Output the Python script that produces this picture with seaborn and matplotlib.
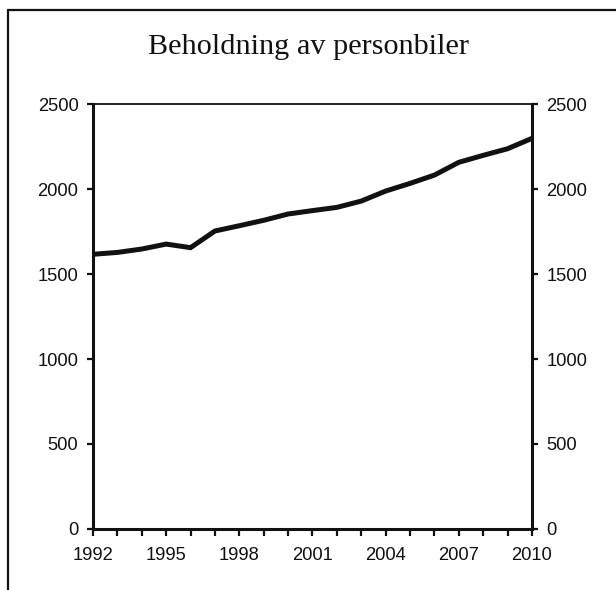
import matplotlib
matplotlib.use("Agg")
import matplotlib.pyplot as plt
from matplotlib.lines import Line2D
import seaborn as sns
import pandas as pd

years = list(range(1992, 2011))
cars = [1616, 1627, 1647, 1676, 1655, 1753, 1784, 1816, 1853, 1873,
        1892, 1929, 1988, 2033, 2082, 2157, 2198, 2237, 2298]
title = "Beholdning av personbiler"
y_ticks = [0, 500, 1000, 1500, 2000, 2500]
x_labels = [1992, 1995, 1998, 2001, 2004, 2007, 2010]

sns.set_theme(style="ticks")
plt.rcParams["font.family"] = ["Liberation Sans", "DejaVu Sans"]

df = pd.DataFrame({"year": years, "cars": cars})

fig = plt.figure(figsize=(6.16, 5.9), dpi=100)
ax = fig.add_axes([0.151, 0.1034, 0.7126, 0.7203])

sns.lineplot(data=df, x="year", y="cars", ax=ax, color="#111111",
             linewidth=3.6, solid_joinstyle="miter", solid_capstyle="butt")

ax.set_xlim(1992, 2010)
ax.set_ylim(0, 2500)
ax.set_xticks(years, minor=True)
ax.set_xticks(x_labels)
ax.set_xticklabels([str(v) for v in x_labels])
ax.set_yticks(y_ticks)
ax.set_yticklabels([str(v) for v in y_ticks])
ax.set_xlabel("")
ax.set_ylabel("")

for side in ["left", "bottom", "right"]:
    ax.spines[side].set_visible(True)
    ax.spines[side].set_linewidth(2.2)
    ax.spines[side].set_color("#111111")
ax.spines["top"].set_visible(True)
ax.spines["top"].set_linewidth(1.3)
ax.spines["top"].set_color("#111111")

ax.tick_params(axis="y", which="major", direction="out", length=4.5, width=1.6,
               color="#111111", labelsize=13.2, labelcolor="#111111",
               left=True, right=True, labelleft=True, labelright=True, pad=6)
ax.tick_params(axis="x", which="both", direction="out", length=5, width=1.6,
               color="#111111", bottom=True, top=False)
ax.tick_params(axis="x", which="major", labelsize=13.2, labelcolor="#111111", pad=8)

fig.text(0.5, 0.92, title, ha="center", va="center",
         fontsize=21.8, family=["Liberation Serif", "DejaVu Serif"], color="#111111")

# partial frame around the figure
fig.add_artist(Line2D([0.013, 1.0], [0.983, 0.983], transform=fig.transFigure,
                      color="#111111", linewidth=1.6))
fig.add_artist(Line2D([0.013, 0.013], [0.0, 0.983], transform=fig.transFigure,
                      color="#111111", linewidth=1.6))

fig.savefig("out.png", dpi=100)
